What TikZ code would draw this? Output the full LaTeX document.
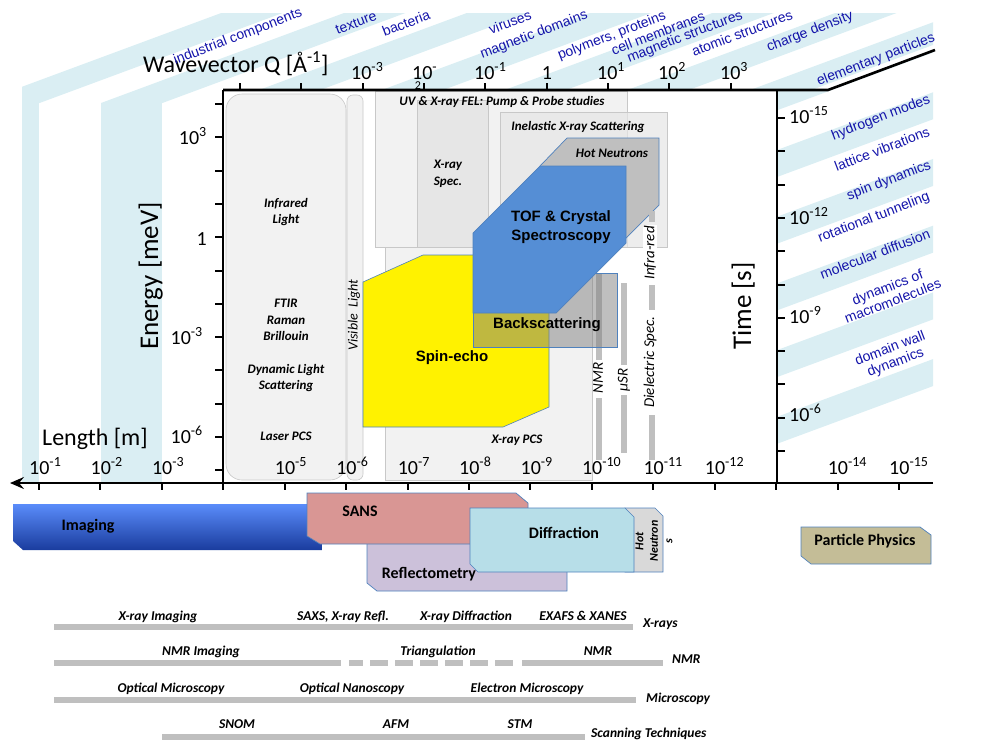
\documentclass[tikz,border=0pt]{standalone}
\usepackage{fontspec}
\setmainfont{Carlito}
\newfontfamily\arialfont{Liberation Sans}
\usetikzlibrary{positioning,arrows.meta}
\definecolor{bandblue}{HTML}{DAEEF3}
\definecolor{bandtext}{RGB}{20,20,170}
\definecolor{boxgray}{HTML}{F2F2F2}
\definecolor{boxmid}{HTML}{E6E6E6}
\definecolor{boxline}{HTML}{C8C8C8}
\definecolor{tofblue}{HTML}{558ED5}
\definecolor{edgeblue}{HTML}{4F81BD}
\definecolor{sanspink}{HTML}{D99694}
\definecolor{reflilac}{HTML}{CCC1DA}
\definecolor{diffcyan}{HTML}{B7DEE8}
\definecolor{hotgray}{HTML}{D9D9D9}
\definecolor{partan}{HTML}{C4BD97}
\definecolor{bargray}{HTML}{BFBFBF}
\definecolor{imgtop}{HTML}{5A8CFA}
\definecolor{imgbot}{HTML}{1A3C9E}

\tikzset{
  band/.style={fill=bandblue, draw=none},
  bandlabel/.style={text=bandtext, font=\arialfont\fontsize{14}{15}\selectfont, rotate=21, inner sep=0pt, align=center},
  ticklabel/.style={font=\fontsize{20}{22}\selectfont, inner sep=0pt},
  axislabel/.style={font=\fontsize{24}{28}\selectfont, inner sep=0pt},
  regionbox/.style={fill=boxgray, draw=boxline, line width=0.6pt},
  method/.style={font=\bfseries\itshape\fontsize{13}{16.5}\selectfont, align=center, inner sep=0pt},
  bigmethod/.style={font=\arialfont\bfseries\fontsize{15}{19}\selectfont, align=center, inner sep=0pt},
  sidebar/.style={bargray, line width=6pt},
  sidetext/.style={font=\itshape\fontsize{15}{17}\selectfont, rotate=90, inner sep=0pt},
  probe/.style={draw=edgeblue, line width=0.7pt},
  probetext/.style={font=\bfseries\fontsize{16}{18}\selectfont, inner sep=0pt},
  techbar/.style={bargray, line width=6pt},
  techtext/.style={font=\bfseries\itshape\fontsize{13.5}{16}\selectfont, inner sep=0pt},
  axis/.style={line width=2.6pt, black},
  tick/.style={line width=2pt, black},
}

\begin{document}
\begin{tikzpicture}[x=1pt, y=-1pt]
\useasboundingbox (0,0) rectangle (1000,750);

% length ribbons: vertical below the fold, slanted above it
\begin{scope}
  \clip (22,13) -- (933,13) -- (933,51) -- (828,90) -- (223,90) -- (223,103) -- (22,103) -- cycle;
  \foreach \a in {-21.8,101,223.8,346.6,469.4,592.2,715} {
    \fill[band] (\a,103) -- ({\a+61.4},103) -- ({\a+61.4+243},13) -- ({\a+243},13) -- cycle;
  }
\end{scope}
\fill[band] (22,103) rectangle (38.5,483);
\fill[band] (101,103) rectangle (162.4,483);

% time ribbons on the right
\begin{scope}
  \clip (777,90) -- (828,90) -- (933,51) -- (933,483) -- (777,483) -- cycle;
  \foreach \k in {-1,...,4} {
    \fill[band] (777,{177+66.7*\k}) -- (1000,{177+66.7*\k-82.5}) -- (1000,{150+66.7*\k-82.5}) -- (777,{150+66.7*\k}) -- cycle;
  }
\end{scope}
\fill[white] (223,90) rectangle (777,483);

% axes
\coordinate (qleft) at (223,90);
\coordinate (qright) at (828,90);
\coordinate (qend) at (935,50);
\coordinate (lright) at (933,483);
\coordinate (lleft) at (10,483);
\coordinate (eleft) at (223,483);
\coordinate (tleft) at (777,90);
\coordinate (tbottom) at (777,483);

% regions inside the frame
\draw[regionbox, rounded corners=16pt] (226,94) rectangle (346,480);
\draw[regionbox, rounded corners=6pt] (347,95) rectangle (363,480);
\draw[regionbox] (375,91) rectangle (627,247);
\draw[regionbox, fill=boxmid] (417,100) rectangle (488,247);
\draw[regionbox, fill=boxmid, fill opacity=0.7] (500,112) rectangle (667,247);
\draw[regionbox] (385,247) rectangle (592,480);

\node[method] (fel) at (502,102) {UV \& X-ray FEL: Pump \& Probe studies};
\node[method] (ixs) at (578,127) {Inelastic X-ray Scattering};
\node[method] (xspec) at (448,174) {X-ray\\Spec.};
\node[method] (xpcs) at (517,440) {X-ray PCS};

\node[method] (irlight) at (286,212) {Infrared\\Light};
\node[method] (ftir) at (286,320) {FTIR\\Raman\\Brillouin};
\node[method] (dls) at (286,378) {Dynamic Light\\Scattering};
\node[method] (laserpcs) at (286,436) {Laser PCS};

% spin echo
\draw[fill=yellow, draw=edgeblue, line width=0.6pt] (363,282) -- (423,255) -- (549,255) -- (549,407) -- (503,427) -- (363,427) -- cycle;
\node[bigmethod] (spinecho) at (452,358) {Spin-echo};

% hot neutrons
\draw[probe, fill=bargray] (540,166) -- (567,138) -- (659,138) -- (659,205) -- (590,274) -- (540,274) -- cycle;
\node[method] (hotn) at (612,153) {Hot Neutrons};

% local probes
\draw[sidebar] (598.5,273) -- (598.5,360);
\draw[sidebar] (598.5,398) -- (598.5,460);
\draw[sidebar] (624,283) -- (624,365);
\draw[sidebar] (624,395) -- (624,453);
\draw[sidebar] (652,211) -- (652,222);
\draw[sidebar] (652,285) -- (652,310);
\draw[sidebar] (652,415) -- (652,460);

% backscattering
\draw[probe, fill=gray, fill opacity=0.5] (473,273) rectangle (617,347);

% TOF
\draw[probe, fill=tofblue] (473,233) -- (540,166) -- (626,166) -- (626,243) -- (556,313) -- (473,313) -- cycle;
\node[bigmethod] (tof) at (561,227) {TOF \& Crystal\\Spectroscopy};
\node[bigmethod] (backsc) at (547,325) {Backscattering};

\node[sidetext] (nmr) at (598,378) {NMR};
\node[sidetext] (musr) at (624,380) {µSR};
\node[sidetext, fill=white, inner sep=1pt] (infrared) at (650,253) {Infra-red};
\node[sidetext] (dielec) at (650,362) {Dielectric Spec.};
\node[sidetext, font=\itshape\fontsize{14}{16}\selectfont] (visible) at (354,315) {Visible\ \ Light};

% axis lines and ticks
\draw[axis] (qleft) -- (qright) -- (qend);
\draw[axis] (qleft) -- (eleft);
\draw[axis] (tleft) -- (tbottom);
\draw[axis, -{Stealth[length=14pt, width=12pt, inset=5pt]}] (lright) -- (lleft);
\foreach \i in {0,...,8} \draw[tick] ({240+61.35*\i},90) -- ++(0,-7);
\foreach \i in {0,...,11} \draw[tick] (223,{104+33.3*\i}) -- ++(-8,0);
\foreach \i in {0,...,10} \draw[tick] (777,{118+33.3*\i}) -- ++(8,0);
\foreach \i in {0,...,14} \draw[tick] ({39+61.43*\i},483) -- ++(0,7);

% axis titles
\node[axislabel, anchor=base west] (qtitle) at (143,72) {Wavevector Q [Å\textsuperscript{-1}]};
\node[axislabel, anchor=base west] (ltitle) at (42,445) {Length [m]};
\node[axislabel, font=\fontsize{27}{30}\selectfont, rotate=90, anchor=base] (etitle) at (158,276) {Energy [meV]};
\node[axislabel, font=\fontsize{27}{30}\selectfont, rotate=90, anchor=base] (ttitle) at (751,306) {Time [s]};

% tick labels
\node[ticklabel, anchor=base west] (q3) at (351,79) {10\textsuperscript{-3}};
\node[ticklabel, anchor=base west] (q2) at (412,79) {10\textsuperscript{-}};
\node[font=\fontsize{12}{12}\selectfont, inner sep=0pt] (q2b) at (418,86) {2};
\node[ticklabel, anchor=base west] (q1) at (474,79) {10\textsuperscript{-1}};
\node[ticklabel, anchor=base] (q0) at (547,79) {1};
\node[ticklabel, anchor=base west] (qp1) at (597,79) {10\textsuperscript{1}};
\node[ticklabel, anchor=base west] (qp2) at (658,79) {10\textsuperscript{2}};
\node[ticklabel, anchor=base west] (qp3) at (720,79) {10\textsuperscript{3}};

\node[ticklabel, anchor=base east] (e3) at (207,144) {10\textsuperscript{3}};
\node[ticklabel, anchor=base east] (e0) at (207,245) {1};
\node[ticklabel, anchor=base east] (em3) at (203,344) {10\textsuperscript{-3}};
\node[ticklabel, anchor=base east] (em6) at (203,443) {10\textsuperscript{-6}};

\node[ticklabel, anchor=base west] (t15) at (789,123) {10\textsuperscript{-15}};
\node[ticklabel, anchor=base west] (t12) at (789,224) {10\textsuperscript{-12}};
\node[ticklabel, anchor=base west] (t9) at (789,323) {10\textsuperscript{-9}};
\node[ticklabel, anchor=base west] (t6) at (789,421) {10\textsuperscript{-6}};

\foreach \i/\e in {0/1,1/2,2/3,4/5,5/6,6/7,7/8,8/9,9/10,10/11,11/12,13/14,14/15}
  \node[ticklabel, anchor=base west] (len\e) at ({29+61.43*\i},474) {10\textsuperscript{-\e}};

% ribbon labels
\node[bandlabel] (industrial) at (238,37) {industrial components};
\node[bandlabel] (texture) at (356,23) {texture};
\node[bandlabel] (bacteria) at (406,23) {bacteria};
\node[bandlabel] (viruses) at (510,22) {viruses};
\node[bandlabel] (magdom) at (534,35) {magnetic domains};
\node[bandlabel] (polymers) at (612,36) {polymers, proteins};
\node[bandlabel] (membranes) at (658,33) {cell membranes};
\node[bandlabel] (magstruct) at (685,37) {magnetic structures};
\node[bandlabel] (atomic) at (742,33) {atomic structures};
\node[bandlabel] (charge) at (810,32) {charge density};
\node[bandlabel] (elementary) at (876,60) {elementary particles};
\node[bandlabel] (hydrogen) at (881,118) {hydrogen modes};
\node[bandlabel] (lattice) at (882,149) {lattice vibrations};
\node[bandlabel] (spin) at (889,181) {spin dynamics};
\node[bandlabel] (rotational) at (874,218) {rotational tunneling};
\node[bandlabel] (diffusion) at (875,254) {molecular diffusion};
\node[bandlabel] (macro) at (890,294) {dynamics of\\macromolecules};
\node[bandlabel] (domain) at (893,356) {domain wall\\dynamics};

% scattering techniques below the length axis
\shade[top color=imgtop, bottom color=imgbot] (13,504) -- (322,504) -- (322,550) -- (23,550) -- (13,541) -- cycle;
\node[probetext] (imaging) at (88,526) {Imaging};
\draw[probe, fill=reflilac] (367,520) -- (567,520) -- (567,591) -- (377,591) -- (367,583) -- cycle;
\node[probetext] (reflecto) at (429,574) {Reflectometry};
\draw[probe, fill=sanspink] (307,493) -- (516,493) -- (528,503) -- (528,544) -- (320,544) -- (307,536) -- cycle;
\node[probetext] (sans) at (360,511) {SANS};
\draw[probe, fill=hotgray] (625,508) -- (655,508) -- (663,516) -- (663,572) -- (625,572) -- cycle;
\draw[probe, fill=diffcyan] (470,508) -- (625,508) -- (634,517) -- (634,572) -- (478,572) -- (470,564) -- cycle;
\node[probetext] (diffraction) at (564,533) {Diffraction};
\node[font=\bfseries\itshape\fontsize{12}{14.5}\selectfont, rotate=90, align=center, inner sep=0pt] (hotbox) at (654,541) {Hot\\Neutron\\s};
\draw[probe, fill=partan] (801,527) -- (920,527) -- (931,535) -- (931,564) -- (811,564) -- (801,556) -- cycle;
\node[probetext] (particle) at (865,541) {Particle Physics};

% other techniques
\draw[techbar] (54,627) -- (633,627);
\node[techtext, anchor=base] (xrimg) at (158,620) {X-ray Imaging};
\node[techtext, anchor=base] (saxs) at (343,620) {SAXS, X-ray Refl.};
\node[techtext, anchor=base] (xrd) at (466,620) {X-ray Diffraction};
\node[techtext, anchor=base] (exafs) at (583,620) {EXAFS \& XANES};
\node[techtext, anchor=base west] (xrays) at (643,627) {X-rays};

\draw[techbar] (54,663) -- (341,663);
\draw[techbar] (349,663) -- (363,663);
\foreach \a in {370,395,...,495} \draw[techbar] (\a,663) -- ++(18,0);
\draw[techbar] (522,663) -- (663,663);
\node[techtext, anchor=base] (nmrimg) at (201,655) {NMR Imaging};
\node[techtext, anchor=base] (triang) at (438,655) {Triangulation};
\node[techtext, anchor=base] (nmrlab) at (598,655) {NMR};
\node[techtext, anchor=base west] (nmrrow) at (672,663) {NMR};

\draw[techbar] (54,700) -- (636,700);
\node[techtext, anchor=base] (optmic) at (171,692) {Optical Microscopy};
\node[techtext, anchor=base] (optnano) at (352,692) {Optical Nanoscopy};
\node[techtext, anchor=base] (elmic) at (527,692) {Electron Microscopy};
\node[techtext, anchor=base west] (micro) at (646,702) {Microscopy};

\draw[techbar] (162,737) -- (585,737);
\node[techtext, anchor=base] (snom) at (237,728) {SNOM};
\node[techtext, anchor=base] (afm) at (396,728) {AFM};
\node[techtext, anchor=base] (stm) at (520,728) {STM};
\node[techtext, anchor=base west] (scanning) at (591,737) {Scanning Techniques};
\end{tikzpicture}
\end{document}
